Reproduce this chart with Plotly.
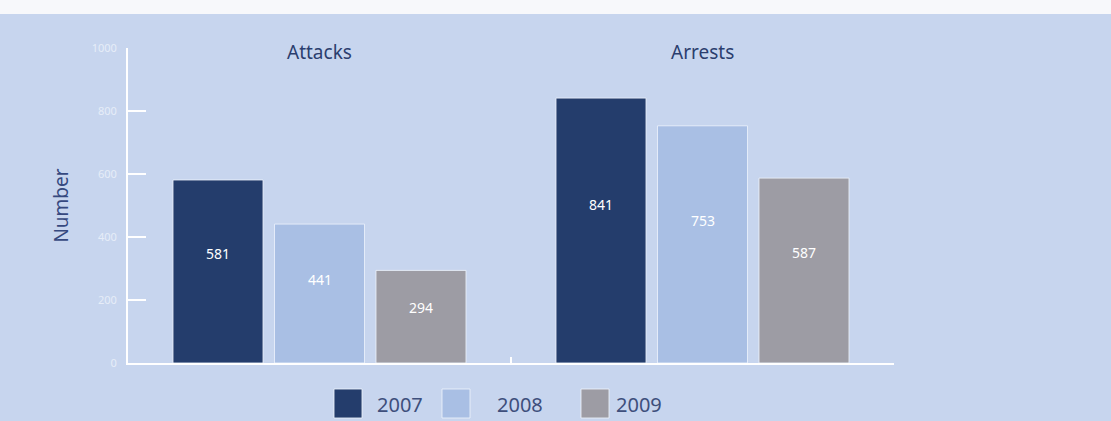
import plotly.graph_objects as go

# ---- data ----
categories = ["Attacks", "Arrests"]
years = ["2007", "2008", "2009"]
values_2007 = [581, 841]
values_2008 = [441, 753]
values_2009 = [294, 587]
y_ticks = [0, 200, 400, 600, 800, 1000]

series = [values_2007, values_2008, values_2009]
colors = ["#243d6c", "#a9bfe4", "#9d9ca4"]

# ---- layout parameters ----
W, H = 1111, 421
L, R, T, B = 128, 217, 48, 58
PW, PH = W - L - R, H - T - B
bargap = 0.205
bargroupgap = 0.113
slot = (1 - bargap) / len(series)
bg = "#c7d5ee"
navy_text = "#2b3e6e"
font_family = "Noto Sans, Open Sans, sans-serif"


def px_x(px):
    return (px - L) / PW


def px_y(py):
    return (H - B - py) / PH


fig = go.Figure()
for yr, vals, col in zip(years, series, colors):
    fig.add_trace(go.Bar(
        x=categories, y=vals, name=yr,
        marker=dict(color=col, line=dict(color="rgba(236,242,251,0.85)", width=1)),
        hoverinfo="x+y+name",
    ))

annotations = []
# value labels inside bars
for j, vals in enumerate(series):
    for i, v in enumerate(vals):
        annotations.append(dict(
            x=i + (j - 1) * slot, y=v * 0.6, xref="x", yref="y",
            text=str(v), showarrow=False,
            font=dict(color="white", size=14, family=font_family),
        ))
# category titles at top
for i, c in enumerate(categories):
    annotations.append(dict(
        x=i, y=px_y(52), xref="x", yref="paper", text=c, showarrow=False,
        yanchor="middle", font=dict(color=navy_text, size=19, family=font_family),
    ))

# custom legend (large swatches)
shapes = [dict(type="rect", xref="paper", yref="paper",
               x0=px_x(-5), x1=px_x(W + 5), y0=px_y(14), y1=px_y(-5),
               fillcolor="#f7f8fb", line=dict(width=0), layer="below")]
legend_sw = [334, 442, 581]
legend_tx = [375, 495, 614]
for yr, col, sx, tx in zip(years, colors, legend_sw, legend_tx):
    shapes.append(dict(type="rect", xref="paper", yref="paper",
                       x0=px_x(sx), x1=px_x(sx + 28), y0=px_y(418), y1=px_y(389),
                       fillcolor=col, line=dict(color="rgba(236,242,251,0.85)", width=1)))
    annotations.append(dict(
        x=px_x(tx), y=px_y(404), xref="paper", yref="paper", text=yr,
        showarrow=False, xanchor="left", yanchor="middle",
        font=dict(color="#3e4f7c", size=20, family=font_family),
    ))

fig.update_layout(
    width=W, height=H,
    margin=dict(l=L, r=R, t=T, b=B, pad=0),
    paper_bgcolor=bg, plot_bgcolor="rgba(0,0,0,0)",
    barmode="group", bargap=bargap, bargroupgap=bargroupgap,
    showlegend=False,
    annotations=annotations, shapes=shapes,
    font=dict(family=font_family),
    xaxis=dict(
        range=[-0.5, len(categories) - 0.5], showticklabels=False,
        showline=True, linecolor="white", linewidth=2,
        ticks="inside", tickson="boundaries", ticklen=6, tickwidth=2, tickcolor="white",
        showgrid=False, zeroline=False, fixedrange=True,
    ),
    yaxis=dict(
        range=[0, 1000], tickvals=y_ticks,
        showline=True, linecolor="white", linewidth=2,
        ticks="inside", ticklen=18, tickwidth=2, tickcolor="white",
        tickfont=dict(color="#e6edf8", size=11, family=font_family),
        ticklabelstandoff=7,
        showgrid=False, zeroline=False,
        title=dict(text="Number", standoff=18,
                   font=dict(color="#36497f", size=19, family=font_family)),
    ),
)

fig.write_html("out.html", config={"displayModeBar": False},
               post_script="document.body.style.margin='0px';document.body.style.overflow='hidden';")
